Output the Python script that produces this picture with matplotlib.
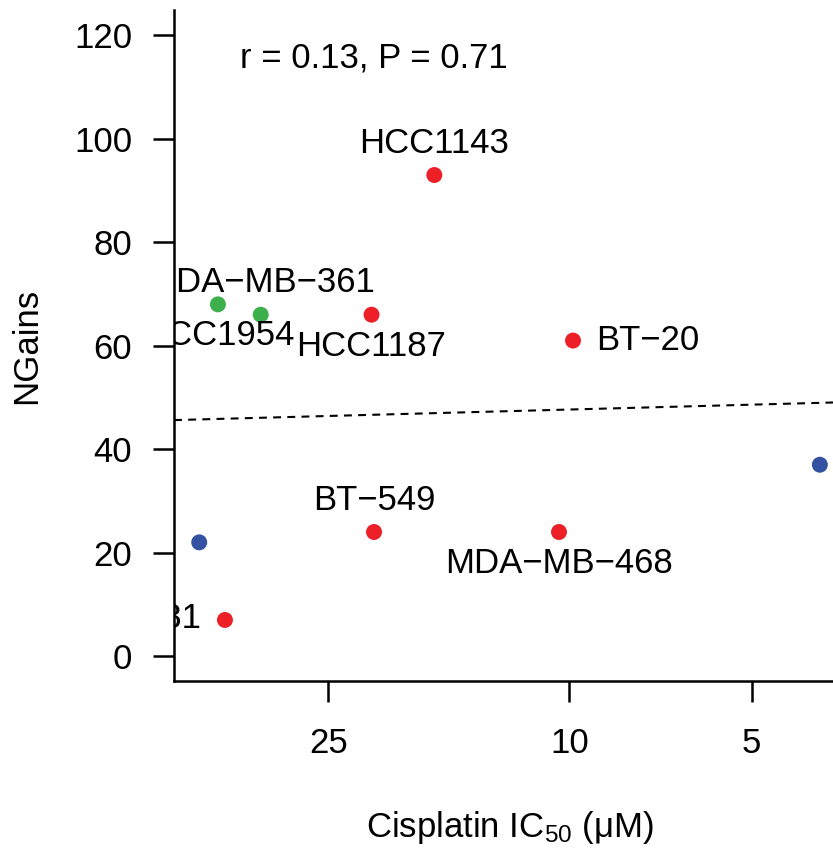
import numpy as np
import matplotlib
matplotlib.use("Agg")
import matplotlib.pyplot as plt

plt.rcParams["font.family"] = ["Liberation Sans", "DejaVu Sans"]
plt.rcParams["mathtext.default"] = "regular"

# cell lines: cisplatin IC50 (uM) vs number of gains
lineas = ["HCC1143", "HCC1954", "MDA\u2212MB\u2212361", "HCC1187", "BT\u221220",
          "BT\u2212549", "MDA\u2212MB\u2212468", "MDA\u2212MB\u2212231", "", ""]
ic50 = [16.7, 38.0, 32.3, 21.2, 9.86, 21.0, 10.4, 37.0, 40.8, 3.86]
ngains = [93, 68, 66, 66, 61, 24, 24, 7, 22, 37]
grupo = ["basal", "her2", "her2", "basal", "basal",
         "basal", "basal", "basal", "luminal", "luminal"]
# where each name goes around its dot: arriba / abajo / derecha / izquierda
posicion = ["arriba", "abajo", "arriba", "abajo", "derecha",
            "arriba", "abajo", "izquierda", "izquierda", "derecha"]

colores = {"basal": "#EE2027", "her2": "#3DB04B", "luminal": "#3451A2"}

# linear fit of NGains on log10(IC50)
fit_intercept = 50.8
fit_slope = -3.13
texto_r = "r = 0.13, P = 0.71"

y_ticks = [0, 20, 40, 60, 80, 100, 120]
x_ticks = [25, 10, 5]

FS = 25

fig = plt.figure(figsize=(8.33, 8.52), dpi=100)
ax = fig.add_axes([0.2089, 0.2007, 0.7911, 0.7876])

ax.set_xscale("log")
ax.set_xlim(44.9, 3.672)
ax.set_ylim(-4.8, 124.9)

ax.scatter(ic50, ngains, s=132, c=[colores[g] for g in grupo],
           linewidths=0, zorder=3, clip_on=True)

# dashed fit line across the whole x range
xs = np.array(ax.get_xlim())
ax.plot(xs, fit_intercept + fit_slope * np.log10(xs), color="black",
        lw=1.5, dashes=(3.8, 3.0), zorder=2)

desplaz = {"arriba": ((0, 16.1), "center", "baseline"),
           "abajo": ((0, -29.5), "center", "baseline"),
           "derecha": ((16.5, -6.7), "left", "baseline"),
           "izquierda": ((-17, -6.0), "right", "baseline")}
for nombre, x, y, pos in zip(lineas, ic50, ngains, posicion):
    if not nombre:
        continue
    off, ha, va = desplaz[pos]
    ax.annotate(nombre, (x, y), xytext=off, textcoords="offset points",
                ha=ha, va=va, fontsize=FS, annotation_clip=False,
                clip_on=True)

ax.text(0.3027, 0.915, texto_r, transform=ax.transAxes, ha="center",
        va="baseline", fontsize=FS)

ax.set_yticks(y_ticks)
ax.set_yticklabels([str(v) for v in y_ticks])
ax.set_xticks(x_ticks)
ax.set_xticklabels([str(v) for v in x_ticks])
ax.xaxis.set_minor_locator(matplotlib.ticker.NullLocator())
ax.tick_params(axis="both", direction="out", length=15, width=1.8,
               labelsize=FS)
ax.tick_params(axis="y", pad=15)
ax.tick_params(axis="x", pad=18)

for lado in ["top", "right"]:
    ax.spines[lado].set_visible(False)
for lado in ["left", "bottom"]:
    ax.spines[lado].set_linewidth(1.8)

fig.text(27 / 833, 1 - 345.5 / 852, "NGains", rotation=90, ha="center",
         va="center", fontsize=FS)
fig.text(510 / 833, 1 - 837 / 852, "Cisplatin IC$_{50}$ (μM)", ha="center",
         va="baseline", fontsize=FS)

fig.savefig("out.png", dpi=100)
